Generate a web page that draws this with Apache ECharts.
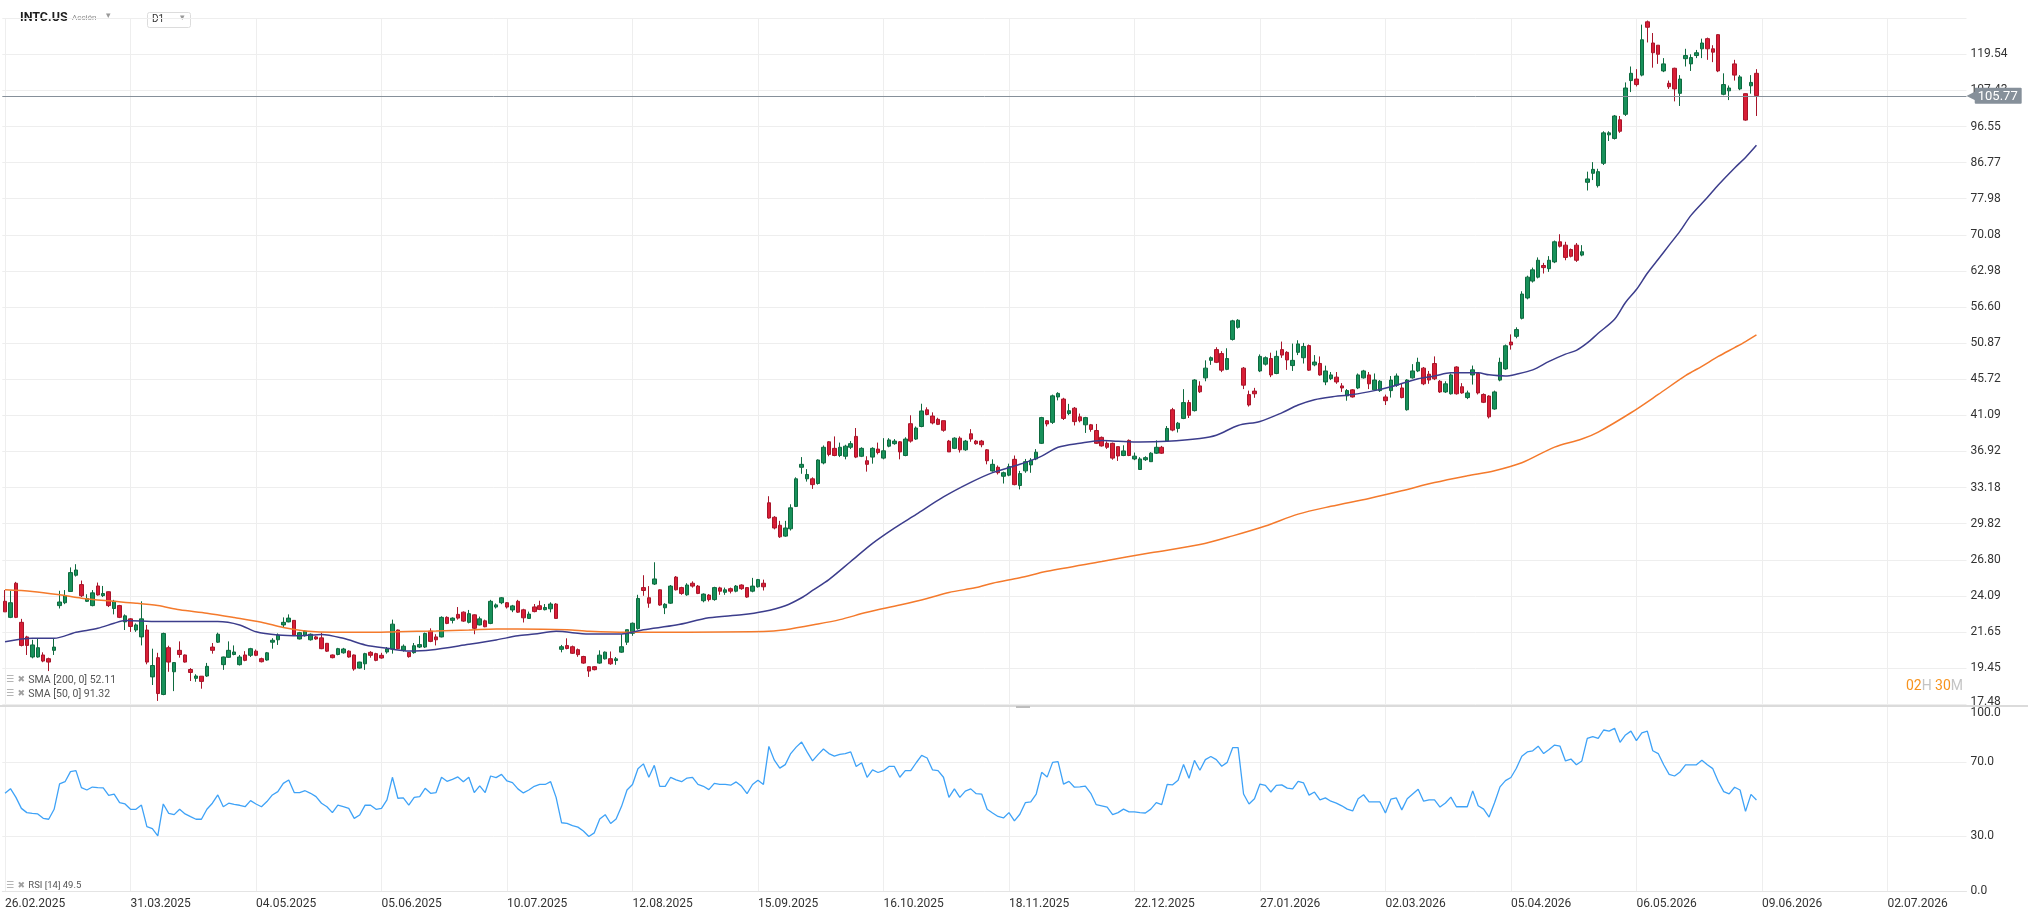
<!DOCTYPE html>
<html>
<head>
<meta charset="utf-8">
<script src="https://cdn.jsdelivr.net/npm/echarts@6/dist/echarts.min.js"></script>
<style>
  html, body { margin: 0; padding: 0; background: #fff; }
  #intc { width: 2031px; height: 918px; }
</style>
</head>
<body>
<div id="intc"></div>
<script>
// tick labels
var dateLabels = ['26.02.2025', '31.03.2025', '04.05.2025', '05.06.2025', '10.07.2025', '12.08.2025',
  '15.09.2025', '16.10.2025', '18.11.2025', '22.12.2025', '27.01.2026', '02.03.2026',
  '05.04.2026', '06.05.2026', '09.06.2026', '02.07.2026'];
var priceTicks = ['17.48', '19.45', '21.65', '24.09', '26.80', '29.82', '33.18', '36.92', '41.09', '45.72',
  '50.87', '56.60', '62.98', '70.08', '77.98', '86.77', '96.55', '107.43', '119.54'];
var rsiTicks = [0, 30, 70, 100];

// daily candles [open, close, low, high]
var candles = [
  [23.7,22.97,22.97,24.5],[22.6,23.6,22.55,24.45],[25.0,22.6,22.55,25.1],[22.27,20.8,20.74,22.5],[21.33,20.8,20.22,21.4],
  [20.1,20.83,20.02,21.15],[20.1,20.66,20.06,21.24],[20.22,19.86,19.79,20.38],[20.0,19.8,19.28,20.06],[20.5,20.7,20.22,21.24],
  [23.4,23.65,23.2,24.45],[23.6,24.09,23.5,24.5],[24.4,25.8,24.4,26.2],[25.6,26.0,25.5,26.45],[24.9,24.09,24.0,25.2],
  [23.7,23.9,23.65,24.2],[23.4,24.3,23.35,24.5],[24.8,24.15,24.1,25.05],[24.1,24.25,24.0,24.8],[24.38,23.4,23.3,24.4],
  [23.2,23.7,22.8,23.8],[23.4,22.6,22.55,23.45],[22.3,22.7,21.77,22.8],[22.5,22.0,21.65,22.55],[21.77,22.1,21.65,22.2],
  [21.33,22.5,20.8,23.7],[21.77,19.8,19.67,22.1],[18.95,19.6,18.5,20.6],[20.06,18.04,17.65,20.35],[17.99,21.55,17.95,21.6],
  [20.66,19.8,19.24,20.78],[19.24,19.77,18.17,19.8],[20.5,20.25,20.06,21.05],[20.22,19.8,19.77,20.25],[19.37,19.2,18.72,19.45],
  [18.87,19.0,18.68,19.1],[18.99,18.7,18.3,19.0],[19.0,19.55,18.95,19.75],[20.7,20.5,20.3,20.95],[21.0,21.5,20.95,21.6],
  [19.65,20.1,19.35,20.12],[20.08,20.5,20.06,21.05],[20.25,20.4,20.2,20.8],[19.65,20.1,19.6,20.22],[20.22,19.9,19.85,20.45],
  [20.2,20.6,20.1,20.65],[20.45,20.2,20.15,20.55],[20.0,19.82,19.78,20.06],[19.92,20.35,19.88,20.4],[21.0,21.12,20.6,21.25],
  [21.15,21.45,20.83,21.55],[22.1,22.27,21.9,22.6],[22.3,22.55,22.27,22.8],[22.4,21.45,21.4,22.42],[21.2,21.6,21.17,21.65],
  [21.4,21.7,21.35,21.75],[21.15,21.5,21.1,21.55],[21.33,21.2,21.15,21.4],[21.27,20.6,20.57,21.6],[20.93,20.45,20.4,20.95],
  [20.22,20.06,20.02,20.25],[20.25,20.6,20.2,20.65],[20.35,20.58,20.3,20.65],[20.45,20.1,20.06,20.5],[20.22,19.4,19.3,20.25],
  [19.45,19.8,19.42,19.82],[19.7,20.3,19.35,20.35],[20.38,20.2,20.06,20.45],[20.3,19.9,19.85,20.35],[20.2,20.04,20.0,20.35],
  [20.4,20.58,20.3,20.7],[20.58,22.15,20.3,22.45],[21.77,20.6,20.57,21.8],[20.5,20.75,20.42,20.86],[20.38,20.12,20.06,20.4],
  [20.36,20.78,20.3,20.95],[20.7,20.85,20.64,21.4],[20.7,21.55,20.64,21.6],[21.7,21.05,21.0,21.88],[21.33,21.15,20.8,21.5],
  [21.33,22.6,21.3,22.67],[22.6,22.2,22.15,22.67],[22.4,22.55,22.2,22.6],[22.8,22.55,22.45,23.3],[22.95,22.35,22.3,23.0],
  [22.27,22.85,22.2,23.1],[22.77,21.88,21.5,22.8],[22.1,22.5,22.07,22.65],[22.37,21.98,21.95,22.45],[22.2,23.7,22.15,23.8],
  [23.3,23.45,23.2,23.55],[23.6,23.95,23.5,24.0],[23.6,23.3,23.2,23.65],[23.1,23.38,22.95,23.45],[23.7,22.95,22.9,23.8],
  [23.11,22.57,22.26,23.18],[22.53,22.82,22.51,22.99],[23.31,22.99,22.94,23.51],[23.39,23.14,23.09,23.74],[23.12,23.27,23.07,23.51],
  [23.18,23.51,22.94,23.63],[23.51,22.53,22.51,23.57],[20.56,20.72,20.38,20.83],[20.79,20.61,20.56,21.24],[20.72,20.32,20.28,20.79],
  [20.54,20.24,20.11,20.61],[20.13,19.74,19.7,20.17],[19.53,19.28,18.95,19.55],[19.53,19.36,19.32,19.57],[19.74,20.21,19.7,20.5],
  [19.99,20.39,19.95,20.43],[20.0,19.7,19.64,20.43],[19.89,19.99,19.64,20.1],[20.39,20.72,20.35,21.5],[21.0,21.79,20.83,21.79],
  [21.56,22.21,21.4,22.26],[21.86,23.9,21.79,24.16],[24.68,24.47,24.09,25.6],[23.95,23.57,23.25,24.79],[24.94,25.32,24.87,26.6],
  [24.52,23.44,23.39,24.55],[23.25,23.49,22.82,23.57],[23.57,24.79,23.52,24.87],[25.46,24.52,24.47,25.54],[24.68,24.26,24.16,24.74],
  [24.16,24.87,24.09,25.0],[25.0,24.79,24.68,25.14],[24.79,24.26,24.21,24.87],[23.74,24.21,23.63,24.26],[24.14,23.82,23.69,24.21],
  [23.82,24.68,23.74,24.74],[24.66,24.42,24.16,24.74],[24.34,24.52,24.16,24.68],[24.6,24.42,24.26,24.68],[24.42,24.79,24.34,24.87],
  [24.87,24.6,24.52,24.92],[24.68,24.0,23.95,24.7],[24.42,24.79,24.34,25.4],[24.74,25.27,24.68,25.32],[25.0,24.74,24.47,25.27],
  [31.72,30.32,30.26,32.34],[30.39,29.44,29.32,30.49],[29.68,28.68,28.59,30.07],[28.74,29.44,28.68,30.07],[29.37,31.25,29.22,31.58],
  [31.38,34.05,31.32,34.2],[35.23,35.54,34.56,36.31],[34.05,34.49,33.77,35.04],[34.05,33.47,33.05,34.2],[33.58,36.0,33.47,36.07],
  [35.69,37.38,35.54,37.58],[37.99,36.6,36.4,38.07],[37.26,36.48,36.4,38.6],[36.48,37.38,36.31,37.9],[36.4,37.5,36.07,37.66],
  [37.38,37.78,37.18,38.07],[38.6,36.31,36.2,39.57],[36.4,37.26,36.31,37.38],[35.92,35.54,34.78,36.4],[36.31,37.26,35.61,37.38],
  [37.18,36.8,36.6,37.9],[36.2,36.99,36.07,38.4],[37.5,38.2,37.38,38.4],[37.78,38.07,37.66,38.3],[37.99,36.87,36.07,38.07],
  [36.48,38.3,36.4,38.5],[40.08,38.07,37.9,41.09],[38.3,39.57,38.2,39.75],[39.75,41.62,39.66,42.52],[41.76,41.18,41.09,42.07],
  [41.0,40.17,40.0,41.45],[40.6,40.0,39.92,40.79],[40.44,39.31,39.14,40.44],[38.07,36.87,36.87,38.2],[37.26,38.4,37.18,38.5],
  [38.4,37.1,36.8,38.6],[37.1,38.07,36.99,38.2],[38.9,38.3,37.99,39.44],[38.07,37.78,37.66,38.2],[38.07,37.66,37.38,38.2],
  [37.1,35.92,35.54,37.18],[34.85,35.54,34.78,36.07],[35.23,34.67,34.49,35.42],[34.31,34.67,33.58,34.78],[34.42,35.3,34.31,35.61],
  [36.07,33.47,33.4,36.48],[33.38,34.58,33.0,34.86],[34.86,35.82,34.66,36.11],[35.48,35.98,34.66,36.2],[36.11,36.84,35.98,37.18],
  [37.82,40.81,37.74,40.9],[40.43,40.05,39.76,40.52],[40.24,43.52,40.05,43.68],[43.38,43.84,42.94,43.99],[43.11,40.71,40.52,43.27],
  [41.3,41.65,41.1,42.5],[41.96,40.33,39.87,42.11],[40.9,40.43,40.24,41.3],[39.95,40.81,39.0,40.9],[39.95,39.41,39.14,40.05],
  [39.28,37.82,37.74,40.05],[38.49,37.53,37.45,38.59],[37.82,37.38,37.2,38.04],[37.82,36.2,36.03,37.9],[37.45,36.43,35.9,37.45],
  [36.48,36.98,36.41,37.6],[38.15,36.48,36.41,38.25],[36.11,36.41,35.98,36.8],[35.0,36.11,34.95,36.3],[36.03,36.25,35.9,36.4],
  [35.82,36.73,35.82,36.84],[36.73,37.38,36.65,38.15],[37.38,36.73,36.65,37.53],[38.07,39.52,37.99,39.8],[41.77,39.33,39.19,42.0],
  [39.52,40.14,39.05,40.29],[40.71,42.66,40.62,44.39],[42.66,41.09,40.76,43.0],[41.66,45.61,41.55,45.72],[44.82,44.05,43.9,45.44],
  [45.9,47.24,45.44,48.34],[48.34,48.72,47.7,48.9],[49.9,48.06,47.95,50.25],[49.32,46.96,46.69,49.67],[47.07,48.6,46.96,50.1],
  [51.43,54.33,51.26,54.5],[53.3,54.43,53.1,54.6],[47.24,44.92,44.4,47.4],[43.68,42.36,42.16,44.2],[44.14,43.79,43.27,44.56],
  [46.85,48.91,46.69,49.2],[47.8,48.72,47.6,48.91],[48.6,46.3,46.0,49.45],[46.5,48.91,46.4,49.75],[49.9,49.1,48.7,51.1],
  [49.5,48.4,47.0,49.67],[47.6,48.34,46.85,50.8],[49.5,50.75,49.1,51.3],[48.72,50.37,47.89,50.9],[50.5,46.96,46.85,50.66],
  [47.7,48.1,47.5,49.1],[47.9,46.3,46.2,48.9],[45.35,46.85,44.92,47.59],[45.8,46.3,45.6,46.7],[46.0,45.35,45.1,46.7],
  [44.82,44.55,44.03,45.19],[43.52,44.2,42.9,44.4],[44.3,43.38,43.3,44.4],[44.55,46.3,44.4,46.5],[45.9,46.85,45.8,47.0],
  [46.3,45.1,44.4,46.7],[44.3,45.61,44.2,46.5],[44.2,45.44,44.03,45.6],[43.38,42.9,42.36,43.68],[44.2,45.6,43.3,46.15],
  [44.92,46.15,44.7,46.5],[44.55,43.3,43.2,45.19],[41.77,45.61,41.66,45.72],[45.9,46.85,45.8,47.8],[46.85,48.06,46.69,48.72],
  [47.24,45.1,44.92,47.4],[46.4,45.61,45.1,46.85],[47.89,45.77,45.6,48.91],[45.44,44.03,43.9,45.61],[44.03,45.1,43.9,45.44],
  [43.79,46.3,43.68,46.5],[47.4,43.79,43.68,47.5],[44.71,43.9,43.79,45.19],[43.3,43.9,43.1,44.2],[46.3,47.0,45.0,47.6],
  [46.5,43.9,43.7,46.7],[43.7,42.7,42.6,43.84],[43.5,40.9,40.7,43.6],[41.86,44.03,41.77,44.2],[45.6,48.06,45.44,48.72],
  [47.13,50.47,47.0,50.66],[51.03,50.6,49.9,52.2],[51.9,52.95,51.6,53.3],[54.74,58.82,54.56,59.3],[58.14,61.83,57.9,62.1],
  [61.12,63.18,60.85,63.6],[61.83,65.0,61.6,65.55],[64.0,63.6,62.5,64.5],[63.4,65.0,62.8,65.8],[64.68,68.65,64.45,68.9],
  [68.65,67.75,67.5,70.2],[67.97,65.55,65.0,68.65],[67.1,65.77,65.55,67.3],[67.97,65.0,64.68,68.4],[66.0,66.65,65.77,67.97],
  [81.86,82.68,79.9,84.48],[84.07,85.05,82.4,86.9],[81.05,84.48,80.6,85.2],[86.6,94.75,86.15,95.2],[94.2,94.75,92.5,95.2],
  [93.2,99.6,92.9,99.9],[98.5,95.2,94.75,99.6],[100.1,108.2,99.6,110.0],[110.6,113.0,106.9,115.3],[111.1,109.3,108.7,114.4],
  [112.4,124.8,112.0,130.5],[131.6,129.5,123.8,132.1],[123.6,120.1,114.9,127.3],[122.8,119.54,116.2,122.8],[113.8,116.2,113.4,118.2],
  [109.7,108.6,107.9,110.6],[114.7,107.9,104.0,114.9],[106.5,111.1,102.6,112.4],[118.0,119.1,115.3,121.5],[116.2,118.4,113.8,119.54],
  [119.1,120.1,118.2,121.1],[121.5,123.6,118.2,125.2],[125.2,121.5,117.6,125.6],[121.5,120.3,116.8,122.8],[126.7,113.8,113.4,126.9],
  [106.2,109.3,105.9,113.0],[107.3,108.2,104.4,109.0],[116.2,112.4,110.6,117.6],[107.9,111.8,107.5,112.4],[106.4,98.4,98.2,106.5],
  [108.9,110.0,106.4,112.4],[113.0,105.77,99.6,114.4]
];

// moving averages: [candle index, value]
var sma50Pts = [
  [0,21.03],[5,21.24],[9,21.24],[13,21.62],[17,21.88],[20,22.21],[22,22.39],[28,22.32],[39,22.32],[43,22.10],
  [46,21.66],[50,21.45],[54,21.40],[58,21.49],[62,21.24],[66,20.83],[70,20.62],[74,20.46],[78,20.52],[85,20.87],
  [90,21.14],[94,21.40],[97,21.51],[101,21.69],[107,21.51],[113,21.51],[117,21.79],[123,22.09],[129,22.57],[135,22.77],
  [139,22.99],[143,23.39],[146,23.95],[148,24.47],[151,25.27],[155,26.66],[159,28.13],[163,29.43],[167,30.65],[172,32.27],
  [177,33.69],[181,34.68],[186,35.54],[190,36.42],[193,37.39],[197,37.83],[201,38.14],[204,38.05],[208,37.96],[213,38.05],
  [219,38.37],[222,38.73],[226,39.87],[230,40.35],[234,41.39],[237,42.36],[240,43.03],[243,43.38],[247,43.69],[251,44.20],
  [254,44.71],[259,45.78],[262,46.15],[265,46.59],[270,46.59],[272,46.31],[275,46.15],[277,46.40],[280,47.00],[283,48.19],
  [286,49.24],[288,49.80],[290,50.90],[292,52.37],[295,54.58],[297,57.37],[299,59.60],[301,62.55],[303,65.20],[305,67.97],
  [307,70.85],[309,74.23],[312,78.26],[314,81.20],[317,85.40],[319,88.10],[321,91.32]
];
var sma200Pts = [
  [0,24.52],[5,24.40],[10,24.16],[14,23.92],[19,23.73],[24,23.57],[28,23.40],[32,23.11],[37,22.88],[42,22.59],
  [47,22.28],[51,21.93],[55,21.71],[60,21.62],[66,21.62],[72,21.66],[79,21.71],[85,21.77],[90,21.84],[94,21.84],
  [103,21.79],[107,21.69],[114,21.62],[139,21.67],[143,21.79],[149,22.16],[153,22.45],[158,22.94],[164,23.44],[169,23.90],
  [173,24.33],[178,24.68],[181,25.00],[186,25.41],[191,25.90],[201,26.66],[210,27.36],[219,28.03],[225,28.76],[231,29.61],
  [237,30.67],[243,31.39],[250,32.13],[256,32.86],[262,33.67],[268,34.35],[273,34.87],[278,35.70],[284,37.40],[289,38.30],
  [292,39.10],[298,41.40],[303,43.70],[308,46.20],[311,47.50],[314,48.90],[317,50.20],[319,51.10],[321,52.11]
];

// RSI 14, one value per candle
var rsiVals = [
  53.1,55.6,50.9,44.9,42.6,42.2,41.9,39.5,39.0,44.4, 58.2,59.4,64.9,65.4,56.2,54.9,56.5,56.2,56.0,52.0,
  52.7,48.0,47.3,44.4,44.4,46.7,35.0,33.9,29.9,47.3, 42.2,41.5,44.4,41.9,40.4,39.0,39.0,44.4,47.7,52.2,
  45.8,47.7,47.1,46.6,45.8,49.1,47.3,45.8,48.6,52.2, 54.0,58.5,60.3,53.5,53.5,54.5,53.1,51.3,47.7,45.8,
  42.6,46.7,45.8,44.9,39.5,41.3,46.7,46.6,44.4,44.9, 49.5,61.8,50.4,50.6,46.7,50.9,51.3,55.8,53.1,53.5,
  61.8,59.6,60.7,62.0,59.4,61.8,53.5,57.1,53.5,62.5, 61.6,
  63.4,59.8,58.9,55.5,53.3,54.9,56.9,57.9,57.9,59.4, 50.9,37.1,36.7,35.5,34.7,32.6,29.6,31.6,39.1,41.5,
  36.7,39.1,46.0,54.9,57.9,66.4,69.1,61.8,68.3,56.9, 56.9,61.8,60.4,59.4,61.4,61.8,57.9,56.9,55.1,58.5,
  57.9,57.9,57.5,59.3,56.9,52.9,57.9,60.2,57.9,78.6, 71.1,66.8,68.7,74.7,78.2,81.0,75.6,70.7,74.1,77.2,
  74.7,73.3,74.3,74.7,75.6,67.7,69.7,61.8,65.8,64.4, 65.4,67.7,67.7,61.8,65.4,65.4,69.7,73.7,72.3,65.8,
  65.4,61.8,50.9,55.5,50.9,54.3,55.5,52.9,52.7,44.4, 42.4,40.5,39.7,42.6,38.1,41.7,
  48.0,48.4,52.7,64.5,61.9,69.9,70.3,58.1,59.6,56.4, 56.6,57.0,53.1,46.9,46.3,45.6,41.5,42.6,44.5,43.0,
  43.0,42.6,42.4,44.5,48.0,46.9,57.9,57.7,60.2,68.8, 61.3,71.0,65.6,71.4,73.1,71.4,67.8,69.9,77.9,77.9,
  52.7,47.3,50.1,58.1,57.4,53.8,57.4,57.7,55.9,55.5, 59.6,58.7,52.1,53.8,49.5,50.6,48.8,47.8,46.3,44.5,
  43.5,50.1,52.3,48.4,48.4,48.4,42.4,49.9,50.6,44.1, 50.1,52.7,55.3,48.8,49.5,49.5,45.6,47.8,51.0,45.8,
  45.8,45.8,54.4,46.3,44.5,40.2,48.0,56.6,60.0,61.7, 66.7,
  73.2,75.6,76.2,78.7,74.7,76.9,79.3,78.7,70.7,71.7, 68.6,70.7,82.9,83.9,82.9,87.5,86.9,88.4,80.8,84.8,
  86.9,81.7,86.0,86.9,76.2,74.7,68.6,63.4,62.5,64.7, 68.6,68.6,68.6,71.1,68.6,66.5,59.5,54.0,52.8,56.4,
  54.9,43.3,52.5,49.5
];
var lastPrice = 105.77;

var SLOTS = 360, LABEL_STEP = 23;

// price pane is logarithmic: plot ln(price) in tick steps above the lowest tick
var lnLow = Math.log(17.48), lnStep = Math.log(119.54 / 17.48) / 18;
function toAxis(v) { return (Math.log(v) - lnLow) / lnStep; }

var slots = [];
for (var i = 0; i < SLOTS; i++) slots.push(String(i));
function onLabel(i) { return i % LABEL_STEP === 0; }

var chart = echarts.init(document.getElementById('intc'), null, { renderer: 'canvas' });
var gridLine = '#eeeeee';
var font = 'Roboto, "Noto Sans", sans-serif';

var option = {
  animation: false,
  textStyle: { fontFamily: font },
  grid: [
    { left: 2.3, right: 64.5, top: 18.2, height: 686 },
    { left: 2.3, right: 64.5, top: 707, height: 184 }
  ],
  xAxis: [{
    type: 'category', gridIndex: 0, data: slots, boundaryGap: true,
    axisLine: { show: false }, axisTick: { show: false }, axisLabel: { show: false },
    splitLine: { show: true, alignWithLabel: true, interval: onLabel, lineStyle: { color: gridLine } }
  }, {
    type: 'category', gridIndex: 1, data: slots, boundaryGap: true,
    axisLine: { show: true, lineStyle: { color: '#e4e4e4' } }, axisTick: { show: false },
    axisLabel: {
      interval: onLabel, align: 'left', margin: 7, color: '#333', fontSize: 12, fontFamily: font,
      formatter: function (v, i) { return dateLabels[i / LABEL_STEP] || ''; }
    },
    splitLine: { show: true, alignWithLabel: true, interval: onLabel, lineStyle: { color: gridLine } }
  }],
  yAxis: [{
    type: 'value', gridIndex: 0, position: 'right', min: 0, max: 19, interval: 1,
    axisLine: { show: false }, axisTick: { show: false },
    axisLabel: {
      margin: 4, color: '#333', fontSize: 12, fontFamily: font,
      formatter: function (v) {
        if (v === 0) return '{low|' + priceTicks[0] + '}';
        return priceTicks[v] || '';
      },
      rich: { low: { color: '#333', fontSize: 12, padding: [0, 0, 4, 0] } }
    },
    splitLine: { lineStyle: { color: gridLine } }
  }, {
    type: 'value', gridIndex: 1, position: 'right', min: 0, max: 100, interval: 10,
    axisLine: { show: false }, axisTick: { show: false },
    axisLabel: {
      margin: 4, color: '#333', fontSize: 12, fontFamily: font,
      formatter: function (v) {
        if (rsiTicks.indexOf(v) < 0) return '';
        if (v === 100) return '{top|' + v.toFixed(1) + '}';
        return v.toFixed(1);
      },
      rich: { top: { color: '#333', fontSize: 12, padding: [12, 0, 0, 0] } }
    },
    splitLine: {
      lineStyle: { color: [gridLine, 'rgba(0,0,0,0)', 'rgba(0,0,0,0)', gridLine, 'rgba(0,0,0,0)',
        'rgba(0,0,0,0)', 'rgba(0,0,0,0)', gridLine, 'rgba(0,0,0,0)', 'rgba(0,0,0,0)', 'rgba(0,0,0,0)'] }
    }
  }],
  series: [{
    name: 'INTC.US',
    type: 'candlestick',
    xAxisIndex: 0, yAxisIndex: 0,
    barWidth: 4,
    data: candles.map(function (c) { return [toAxis(c[0]), toAxis(c[1]), toAxis(c[2]), toAxis(c[3])]; }),
    itemStyle: {
      color: '#17915a', color0: '#d81e36',
      borderColor: '#0e6a3f', borderColor0: '#a8152a', borderWidth: 1
    },
    markLine: {
      silent: true, symbol: ['none', 'none'],
      lineStyle: { color: '#86909a', width: 1, type: 'solid' },
      label: {
        show: true, position: 'end', distance: 0,
        formatter: '{arr|\u25C0}{box|' + lastPrice.toFixed(2) + '}',
        rich: {
          arr: { color: '#86909a', fontSize: 12, fontFamily: 'DejaVu Sans', padding: [0, -1, 0, 0] },
          box: { color: '#fff', fontSize: 13, fontFamily: font, backgroundColor: '#86909a', padding: [2, 4, 1, 3], borderRadius: 1 }
        }
      },
      data: [{ yAxis: toAxis(lastPrice) }]
    }
  }, {
    name: 'SMA [200, 0]',
    type: 'line', xAxisIndex: 0, yAxisIndex: 0,
    showSymbol: false, smooth: 0.3,
    lineStyle: { color: '#f47a2c', width: 1.5 },
    data: sma200Pts.map(function (p) { return [p[0], toAxis(p[1])]; })
  }, {
    name: 'SMA [50, 0]',
    type: 'line', xAxisIndex: 0, yAxisIndex: 0,
    showSymbol: false, smooth: 0.3,
    lineStyle: { color: '#3c3d8c', width: 1.5 },
    data: sma50Pts.map(function (p) { return [p[0], toAxis(p[1])]; })
  }, {
    name: 'RSI [14]',
    type: 'line', xAxisIndex: 1, yAxisIndex: 1,
    showSymbol: false,
    lineStyle: { color: '#3ea2f7', width: 1.3 },
    data: rsiVals
  }],
  graphic: [
    { type: 'text', left: 20, top: 11, style: { text: 'INTC.US', font: 'bold 12.5px Roboto', fill: '#1e1e1e' } },
    { type: 'text', left: 72, top: 14, style: { text: 'Acción', font: '8px Roboto', fill: '#888' } },
    { type: 'text', left: 106, top: 11, style: { text: '\u25BE', font: '9px "DejaVu Sans"', fill: '#999' } },
    { type: 'rect', shape: { x: 147.5, y: 12.5, width: 43, height: 15, r: 2 }, style: { fill: '#fff', stroke: '#dcdcdc', lineWidth: 1 } },
    { type: 'text', left: 152, top: 14, style: { text: 'D1', font: '10px Roboto', fill: '#333' } },
    { type: 'text', left: 180, top: 13, style: { text: '\u25BE', font: '9px "DejaVu Sans"', fill: '#999' } },
    {
      type: 'text', left: 6, top: 674,
      style: {
        text: '{i|\u2630} {x|\u2716} {t|SMA [200, 0] 52.11}',
        rich: {
          i: { fontFamily: 'DejaVu Sans', fontSize: 9, fill: '#a0a0a0' },
          x: { fontFamily: 'DejaVu Sans', fontSize: 9, fill: '#a0a0a0' },
          t: { fontFamily: font, fontSize: 10.5, fill: '#555' }
        }
      }
    },
    {
      type: 'text', left: 6, top: 688,
      style: {
        text: '{i|\u2630} {x|\u2716} {t|SMA [50, 0] 91.32}',
        rich: {
          i: { fontFamily: 'DejaVu Sans', fontSize: 9, fill: '#a0a0a0' },
          x: { fontFamily: 'DejaVu Sans', fontSize: 9, fill: '#a0a0a0' },
          t: { fontFamily: font, fontSize: 10.5, fill: '#555' }
        }
      }
    },
    {
      type: 'text', left: 6, top: 880,
      style: {
        text: '{i|\u2630} {x|\u2716} {t|RSI [14] 49.5}',
        rich: {
          i: { fontFamily: 'DejaVu Sans', fontSize: 9, fill: '#a0a0a0' },
          x: { fontFamily: 'DejaVu Sans', fontSize: 9, fill: '#a0a0a0' },
          t: { fontFamily: font, fontSize: 9.5, fill: '#555' }
        }
      }
    },
    {
      type: 'text', left: 1906, top: 679,
      style: {
        text: '{n|02}{u|H} {n|30}{u|M}',
        rich: {
          n: { fontFamily: font, fontSize: 14, fill: '#f7931e' },
          u: { fontFamily: font, fontSize: 14, fill: '#c4c4c4' }
        }
      }
    },
    { type: 'line', shape: { x1: 0, y1: 706, x2: 2028, y2: 706 }, style: { stroke: '#cfcfcf', lineWidth: 1.5 } },
    { type: 'rect', shape: { x: 1016, y: 706, width: 14, height: 2 }, style: { fill: '#bdbdbd' } }
  ]
};

chart.setOption(option);
</script>
</body>
</html>
